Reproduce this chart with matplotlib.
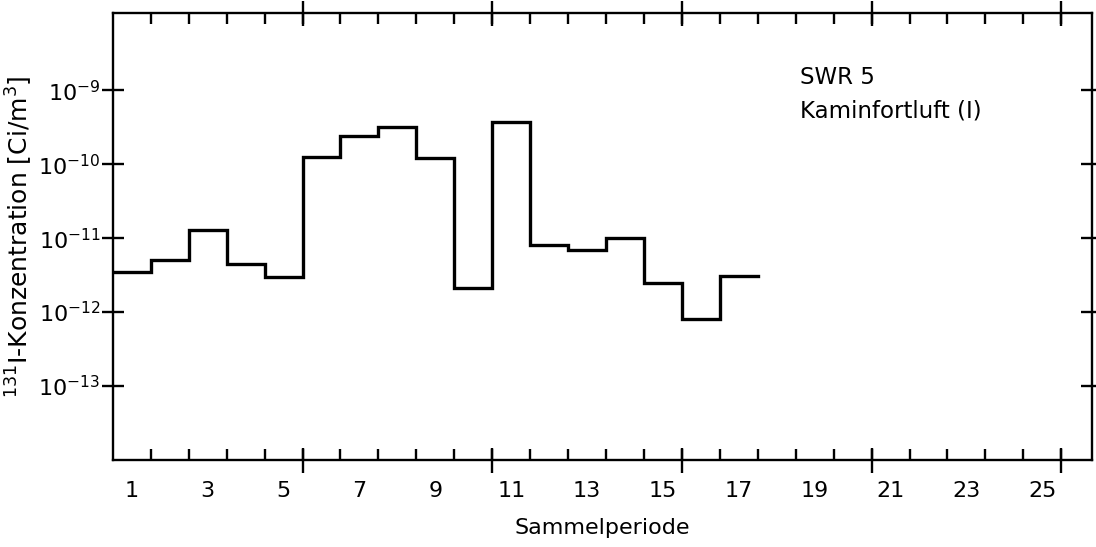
import numpy as np
import matplotlib
matplotlib.use("Agg")
import matplotlib.pyplot as plt

plt.rcParams['font.family'] = ['DejaVu Sans']
plt.rcParams['mathtext.fontset'] = 'dejavusans'

# Sammelperiode 1..17 and measured 131I concentration [Ci/m3]
periods = np.arange(1, 18)
concentration = [3.5e-12, 5.0e-12, 1.3e-11, 4.5e-12, 3.0e-12,
                 1.25e-10, 2.4e-10, 3.2e-10, 1.2e-10, 2.1e-12,
                 3.7e-10, 8.0e-12, 6.9e-12, 1.0e-11, 2.5e-12,
                 8.0e-13, 3.1e-12]

xtick_labels = [str(n) for n in range(1, 26, 2)]
ytick_values = [1e-13, 1e-12, 1e-11, 1e-10, 1e-9]
ytick_labels = [r'$10^{-13}$', r'$10^{-12}$', r'$10^{-11}$', r'$10^{-10}$', r'$10^{-9}$']

fig = plt.figure(figsize=(10.96, 5.47), dpi=100)
ax = fig.add_axes([0.103, 0.159, 0.893, 0.817])

# step outline: each period covers [n-0.5, n+0.5]
edges = np.append(periods - 0.5, periods[-1] + 0.5)
vals = np.append(concentration, concentration[-1])
ax.step(edges, vals, where='post', color='black', lw=2.4, solid_joinstyle='miter')

ax.set_yscale('log')
ax.set_xlim(0.5, 26.3)
ax.set_ylim(1e-14, 1.1e-8)

for s in ax.spines.values():
    s.set_linewidth(1.7)

# x: labels at odd periods, small inward ticks on the period edges
ax.set_xticks(range(1, 26, 2))
ax.set_xticklabels(xtick_labels, fontsize=16)
ax.tick_params(axis='x', which='major', length=0, pad=15)
ax.set_xticks(np.arange(1.5, 26, 1), minor=True)
ax.tick_params(axis='x', which='minor', direction='in', length=8, width=1.7,
               top=True, bottom=True)

# longer crossing ticks every 5 periods
for loc in ('bottom', 'top'):
    sec = ax.secondary_xaxis(loc)
    sec.set_xticks(np.arange(5.5, 26, 5))
    sec.set_xticklabels([])
    sec.tick_params(direction='inout', length=18, width=1.7)
    for s in sec.spines.values():
        s.set_visible(False)

ax.set_yticks(ytick_values)
ax.set_yticklabels(ytick_labels, fontsize=16)
ax.yaxis.set_minor_locator(matplotlib.ticker.NullLocator())
ax.tick_params(axis='y', which='major', direction='inout', length=16, width=1.7,
               left=True, right=True, pad=1)

ax.set_xlabel('Sammelperiode', fontsize=16, labelpad=12)
ax.set_ylabel(r'$^{131}$I-Konzentration [Ci/m$^3$]', fontsize=18, labelpad=2)

ax.text(0.702, 0.855, 'SWR 5', transform=ax.transAxes, fontsize=16.5, va='center')
ax.text(0.702, 0.780, 'Kaminfortluft (I)', transform=ax.transAxes, fontsize=16.5, va='center')

fig.savefig('out.png', dpi=100)
